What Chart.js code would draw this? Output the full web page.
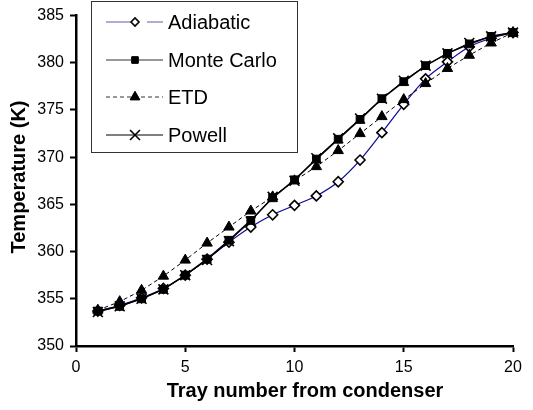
<!DOCTYPE html>
<html>
<head>
<meta charset="utf-8">
<script src="https://cdn.jsdelivr.net/npm/chart.js@4.4.1/dist/chart.umd.min.js"></script>
<style>
  html, body { margin: 0; padding: 0; background: #fff; }
  #wrap { width: 533px; height: 410px; }
</style>
</head>
<body>
<div id="wrap"><canvas id="myChart" width="533" height="410"></canvas></div>
<script>
const trays = [1, 2, 3, 4, 5, 6, 7, 8, 9, 10, 11, 12, 13, 14, 15, 16, 17, 18, 19, 20];

const adiabatic  = [353.7, 354.3, 355.1, 356.1, 357.5, 359.2, 361.0, 362.6, 363.9, 364.9,
                    365.9, 367.4, 369.7, 372.6, 375.6, 378.3, 380.1, 381.7, 382.6, 383.2];
const monteCarlo = [353.7, 354.2, 355.0, 356.0, 357.5, 359.2, 361.2, 363.3, 365.7, 367.6,
                    369.8, 371.9, 374.0, 376.2, 378.0, 379.7, 381.0, 382.0, 382.8, 383.2];
const etd        = [353.8, 354.7, 355.9, 357.4, 359.1, 360.9, 362.6, 364.3, 365.8, 367.5,
                    369.0, 370.7, 372.5, 374.3, 376.1, 377.8, 379.4, 380.8, 382.1, 383.2];
const powell     = [353.6, 354.2, 355.0, 356.0, 357.5, 359.1, 361.1, 363.2, 365.8, 367.5,
                    369.9, 372.0, 374.1, 376.2, 378.1, 379.7, 381.0, 382.1, 382.8, 383.2];

const seriesNames = ['Adiabatic', 'Monte Carlo', 'ETD', 'Powell'];
const xTitle = 'Tray number from condenser';
const yTitle = 'Temperature (K)';

const FONT = '"Liberation Sans", Arial, sans-serif';

function points(values)
{
    return values.map((v, i) => ({ x: trays[i], y: v }));
}

// legend in a boxed panel, line sample with the marker in the middle
const boxLegend = {
    id: 'boxLegend',
    afterDraw(chart) {
        const ctx = chart.ctx;
        ctx.save();
        ctx.fillStyle = '#fff';
        ctx.fillRect(91.5, 1.5, 206, 151);
        ctx.strokeStyle = '#333';
        ctx.lineWidth = 1;
        ctx.strokeRect(91.5, 1.5, 206, 151);

        const rows = [22, 60, 97, 135];
        chart.data.datasets.forEach((ds, i) => {
            const y = rows[i];
            ctx.strokeStyle = ds.legendLine;
            ctx.lineWidth = 1;
            ctx.setLineDash(ds.borderDash || []);
            ctx.beginPath();
            if (i === 0) {
                ctx.moveTo(106, y); ctx.lineTo(131, y);
                ctx.moveTo(147, y); ctx.lineTo(163, y);
            } else {
                ctx.moveTo(106, y); ctx.lineTo(163, y);
            }
            ctx.stroke();
            ctx.setLineDash([]);
            Chart.helpers.drawPoint(ctx, {
                pointStyle: ds.pointStyle,
                radius: ds.legendRadius,
                borderWidth: ds.pointBorderWidth,
                rotation: 0
            }, 135, y);
            ctx.fillStyle = ds.pointBackgroundColor;
            ctx.strokeStyle = ds.pointBorderColor;
            ctx.lineWidth = ds.pointBorderWidth;
            if (ds.pointStyle !== 'crossRot') ctx.fill();
            ctx.stroke();

            ctx.fillStyle = '#000';
            ctx.font = '20px ' + FONT;
            ctx.textBaseline = 'middle';
            ctx.textAlign = 'left';
            ctx.fillText(ds.label, 168, y + 1);
        });

        // axis titles
        ctx.fillStyle = '#000';
        ctx.font = 'bold 20px ' + FONT;
        ctx.textAlign = 'center';
        ctx.textBaseline = 'alphabetic';
        ctx.fillText(xTitle, 305, 397);
        ctx.translate(25, 177);
        ctx.rotate(-Math.PI / 2);
        ctx.fillText(yTitle, 0, 0);
        ctx.restore();
    }
};

const data = {
    datasets: [
        {
            label: seriesNames[0],
            data: points(adiabatic),
            borderColor: '#0a0a9a',
            legendLine: '#5a5aae',
            borderWidth: 1.2,
            tension: 0.3,
            pointStyle: 'rectRot',
            pointRadius: 5,
            legendRadius: 4,
            pointBackgroundColor: '#fff',
            pointBorderColor: '#000',
            pointBorderWidth: 1.6,
            order: 4
        },
        {
            label: seriesNames[1],
            data: points(monteCarlo),
            borderColor: '#000',
            legendLine: '#333',
            borderWidth: 1.6,
            pointStyle: 'rect',
            pointRadius: 5.5,
            legendRadius: 4.5,
            pointBackgroundColor: '#000',
            pointBorderColor: '#000',
            pointBorderWidth: 1,
            order: 3
        },
        {
            label: seriesNames[2],
            data: points(etd),
            borderColor: '#000',
            legendLine: '#333',
            borderWidth: 1,
            borderDash: [4, 3],
            pointStyle: 'triangle',
            pointRadius: 6,
            legendRadius: 5.5,
            pointBackgroundColor: '#000',
            pointBorderColor: '#000',
            pointBorderWidth: 1,
            order: 2
        },
        {
            label: seriesNames[3],
            data: points(powell),
            borderColor: '#000',
            legendLine: '#000',
            borderWidth: 1,
            pointStyle: 'crossRot',
            pointRadius: 7,
            legendRadius: 7,
            pointBackgroundColor: '#000',
            pointBorderColor: '#000',
            pointBorderWidth: 1.6,
            order: 1
        }
    ]
};

const tickFont = { family: FONT, size: 16 };

const config = {
    type: 'line',
    data: data,
    options: {
        responsive: false,
        animation: false,
        clip: false,
        layout: { padding: { top: 11, right: 20, left: 0, bottom: 0 } },
        plugins: {
            legend: { display: false },
            tooltip: { enabled: false }
        },
        scales: {
            x: {
                type: 'linear',
                min: 0,
                max: 20,
                ticks: { stepSize: 5, color: '#000', font: tickFont, padding: 6, maxRotation: 0 },
                grid: { drawOnChartArea: false, tickLength: 6, tickColor: '#000', tickWidth: 2 },
                border: { color: '#000', width: 2.5 },
                afterFit: scale => { scale.height = 64; }
            },
            y: {
                min: 350,
                max: 385,
                ticks: { stepSize: 5, color: '#000', font: tickFont, padding: 6 },
                grid: { drawOnChartArea: false, tickLength: 6, tickColor: '#000', tickWidth: 2 },
                border: { color: '#000', width: 2.5 },
                afterFit: scale => { scale.width = 76; }
            }
        }
    },
    plugins: [boxLegend]
};

const chart = new Chart(document.getElementById('myChart'), config);
</script>
</body>
</html>
